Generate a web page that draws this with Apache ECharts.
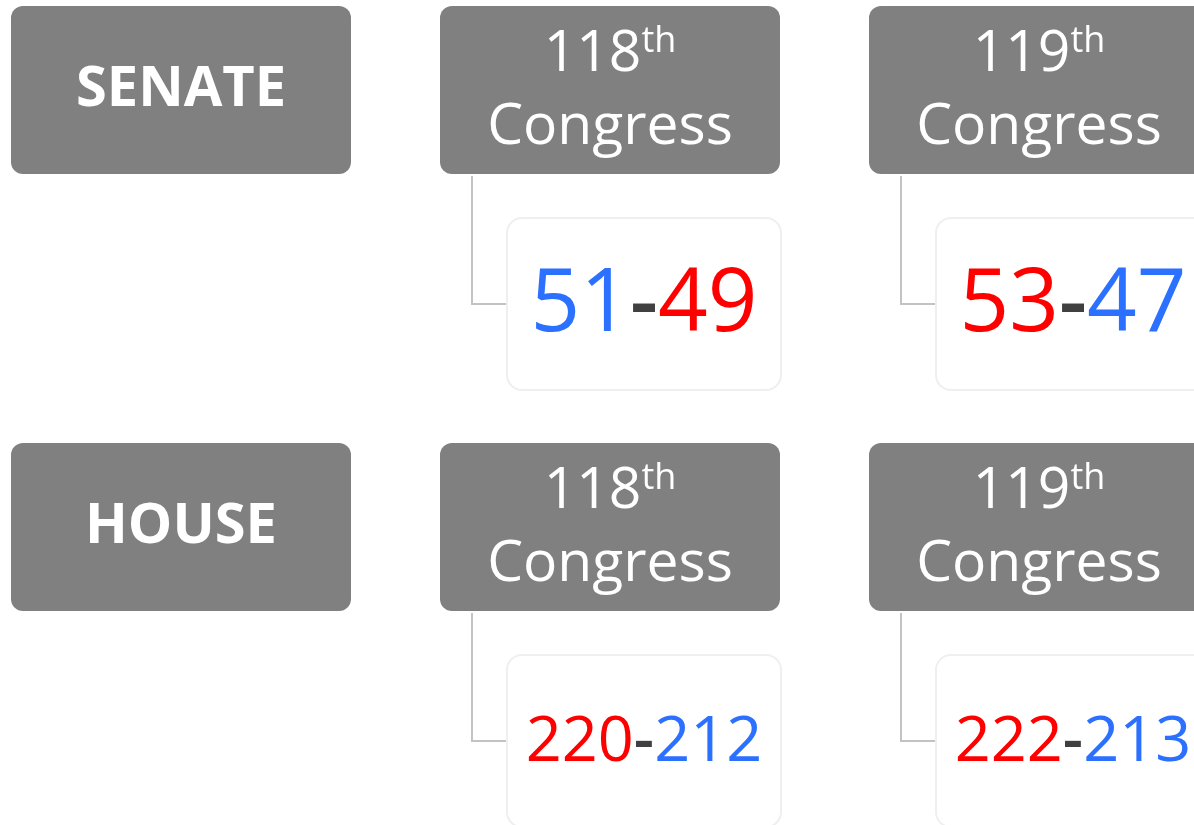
<!DOCTYPE html>
<html>
<head>
<meta charset="utf-8">
<script src="https://cdn.jsdelivr.net/npm/echarts@6/dist/echarts.min.js"></script>
<style>
  html, body { margin: 0; padding: 0; background: #ffffff; }
  #chart { width: 1194px; height: 825px; }
</style>
</head>
<body>
<div id="chart"></div>
<script>
// ---- data ----
const chambers = ['SENATE', 'HOUSE'];
const congressNumbers = ['118', '119'];
const ordinalSuffix = 'th';
const congressWord = 'Congress';
const senateDem = [51, 47];
const senateRep = [49, 53];
const houseDem = [212, 213];
const houseRep = [220, 222];

// ---- build items ----
const FONT = '"Open Sans", "Noto Sans", sans-serif';
const DEM_COLOR = '#2B70FF';
const REP_COLOR = '#FF0000';
const SEP_COLOR = '#404040';

const headerData = [];
chambers.forEach(function (ch, r) {
  headerData.push({ value: [0, r], kind: 'chamber', label: ch });
  congressNumbers.forEach(function (n, c) {
    headerData.push({ value: [c + 1, r], kind: 'congress', label: n });
  });
});

const seatData = [];
[[senateDem, senateRep], [houseDem, houseRep]].forEach(function (pair, r) {
  congressNumbers.forEach(function (n, c) {
    seatData.push({ value: [c + 1, r], dem: pair[0][c], rep: pair[1][c], row: r });
  });
});

function renderHeader(params, api) {
  const item = headerData[params.dataIndex];
  const p = api.coord([api.value(0), api.value(1)]);
  const children = [{
    type: 'rect',
    shape: { x: p[0], y: p[1], width: 340, height: 168, r: 12 },
    style: { fill: '#808080' }
  }];
  if (item.kind === 'chamber') {
    children.push({
      type: 'text',
      style: {
        text: item.label, x: p[0] + 170, y: p[1] + 84,
        align: 'center', verticalAlign: 'middle',
        fontSize: 56, fontWeight: 'bold', fontFamily: FONT, fill: '#ffffff'
      }
    });
  } else {
    children.push({
      type: 'text',
      style: {
        text: '{n|' + item.label + '}{s|' + ordinalSuffix + '}',
        x: p[0] + 170, y: p[1] + 49,
        align: 'center', verticalAlign: 'middle',
        rich: {
          n: { fontSize: 57, fontFamily: FONT, fill: '#ffffff', lineHeight: 62 },
          s: { fontSize: 36, fontFamily: FONT, fill: '#ffffff', verticalAlign: 'top', lineHeight: 62 }
        }
      }
    });
    children.push({
      type: 'text',
      style: {
        text: congressWord, x: p[0] + 170, y: p[1] + 122,
        align: 'center', verticalAlign: 'middle',
        fontSize: 57, fontFamily: FONT, fill: '#ffffff'
      }
    });
  }
  return { type: 'group', children: children };
}

function renderSeats(params, api) {
  const item = seatData[params.dataIndex];
  const p = api.coord([api.value(0), api.value(1)]);
  const fs = item.row === 0 ? 87 : 63;
  const demTok = '{d|' + item.dem + '}';
  const repTok = '{r|' + item.rep + '}';
  const txt = item.dem > item.rep ? demTok + '{m|-}' + repTok : repTok + '{m|-}' + demTok;
  return {
    type: 'group',
    children: [
      {
        type: 'polyline',
        shape: { points: [[p[0] + 32, p[1] + 170], [p[0] + 32, p[1] + 298], [p[0] + 67, p[1] + 298]] },
        style: { stroke: '#C3C3C3', lineWidth: 2, fill: null }
      },
      {
        type: 'rect',
        shape: { x: p[0] + 67, y: p[1] + 212, width: 274, height: 172, r: 15 },
        style: { fill: '#ffffff', stroke: '#EFEFEF', lineWidth: 2 }
      },
      {
        type: 'text',
        style: {
          text: txt, x: p[0] + 204, y: p[1] + 300,
          align: 'center', verticalAlign: 'middle',
          rich: {
            d: { fontSize: fs, fontFamily: FONT, fill: DEM_COLOR },
            r: { fontSize: fs, fontFamily: FONT, fill: REP_COLOR },
            m: { fontSize: fs, fontFamily: FONT, fill: SEP_COLOR, fontWeight: 600 }
          }
        }
      }
    ]
  };
}

const chart = echarts.init(document.getElementById('chart'));
chart.setOption({
  animation: false,
  backgroundColor: '#ffffff',
  grid: { left: 11, right: 325, top: 6, bottom: 382 },
  xAxis: { type: 'value', min: 0, max: 2, show: false },
  yAxis: { type: 'value', min: 0, max: 1, inverse: true, show: false },
  series: [
    {
      type: 'custom', coordinateSystem: 'cartesian2d', clip: false,
      renderItem: renderSeats, data: seatData.map(function (d) { return d.value; })
    },
    {
      type: 'custom', coordinateSystem: 'cartesian2d', clip: false,
      renderItem: renderHeader, data: headerData.map(function (d) { return d.value; })
    }
  ]
});
</script>
</body>
</html>
